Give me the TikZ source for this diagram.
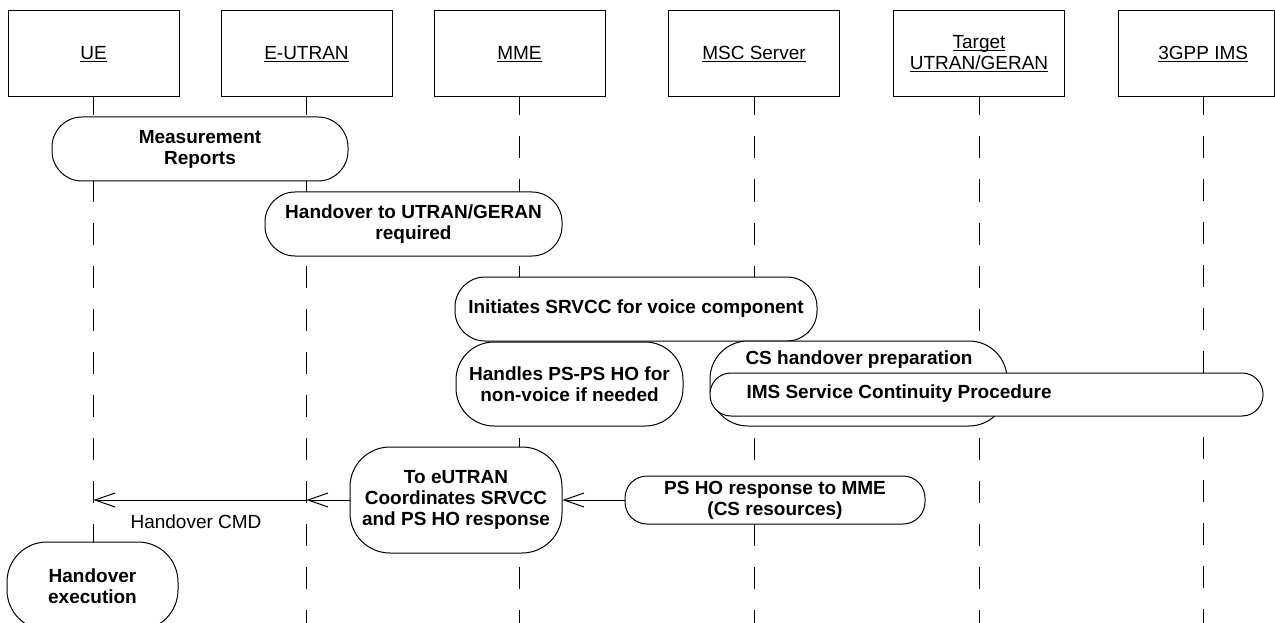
\documentclass[tikz,border=0pt]{standalone}
\usepackage{fontspec}
\setmainfont{Liberation Sans}
\usetikzlibrary{arrows.meta}
\newcommand\hfnt{\fontsize{19}{21}\selectfont}
\newcommand\bfnt{\fontsize{19}{21}\selectfont\bfseries}
\newcommand\myul[1]{{\setbox0\hbox{#1}\rlap{\rule[-2.6pt]{\wd0}{1pt}}\box0}}
\begin{document}
\begin{tikzpicture}[x=1pt,y=-1pt,line width=1pt,
  hdr/.style={draw,fill=white,minimum width=171pt,minimum height=86pt,inner sep=0pt,font=\hfnt,align=center},
  life/.style={dash pattern=on 22pt off 21pt,dash phase=4pt},
  act/.style={draw,fill=white,inner sep=0pt,font=\bfnt,align=center},
  txt/.style={inner sep=0pt,font=\bfnt,align=center},
  msg/.style={-{Straight Barb[length=20pt,width=14pt]}},
]
\clip (0,0) rectangle (1275,623);
\fill[white] (0,0) rectangle (1275,623);
% headers
\node[hdr] (ue) at (93.5,54) {\myul{UE}};
\node[hdr] (eutran) at (306.5,54) {\myul{E-UTRAN}};
\node[hdr] (mme) at (519.5,54) {\myul{MME}};
\node[hdr] (msc) at (754,54) {\myul{MSC Server}};
\node[hdr] (tgt) at (979,54) {\myul{Target}\\\myul{UTRAN/GERAN}};
\node[hdr,minimum width=156.5pt] (ims3) at (1196.25,54) {\hspace*{14pt}\myul{3GPP IMS}};
% lifeline ends
\coordinate (ims3s) at (1203.5,97);
\coordinate (ueE) at (93.5,640);
\coordinate (euE) at (306.5,640);
\coordinate (mmE) at (519.5,640);
\coordinate (msE) at (754,640);
\coordinate (tgE) at (979,640);
\coordinate (imE) at (1203.5,640);
\draw[life] (ue.south) -- (ueE);
\draw[life] (eutran.south) -- (euE);
\draw[life] (mme.south) -- (mmE);
\draw[life] (msc.south) -- (msE);
\draw[life] (tgt.south) -- (tgE);
\draw[life] (ims3s) -- (imE);
% activity boxes
\node[act,minimum width=296pt,minimum height=64pt,rounded corners=30pt] (meas) at (200,149) {Measurement\\Reports};
\node[act,minimum width=297pt,minimum height=64pt,rounded corners=30pt] (horeq) at (413.5,224) {Handover to UTRAN/GERAN\\required};
\node[act,minimum width=362pt,minimum height=64pt,rounded corners=30pt] (init) at (636,309) {Initiates SRVCC for voice component};
\node[act,minimum width=227pt,minimum height=84pt,rounded corners=38pt] (handles) at (569.5,384) {Handles PS-PS HO for\\non-voice if needed};
\node[act,minimum width=297pt,minimum height=85pt,rounded corners=38pt] (cs) at (858.5,383.5) {};
\node[txt] (cstxt) at (859,360) {CS handover preparation};
\node[act,minimum width=553pt,minimum height=43pt,rounded corners=21pt] (imsp) at (986.5,394.5) {};
\node[txt,anchor=west] (imstxt) at (746,394) {IMS Service Continuity Procedure};
\node[act,minimum width=212pt,minimum height=106pt,rounded corners=40pt] (coord) at (456,500) {To eUTRAN\\Coordinates SRVCC\\and PS HO response};
\node[act,minimum width=300pt,minimum height=48pt,rounded corners=22pt] (psho) at (775,500) {PS HO response to MME\\(CS resources)};
\node[act,minimum width=171pt,minimum height=88pt,rounded corners=40pt] (hoexec) at (92.5,586) {Handover\\execution};
% messages
\coordinate (euM) at (eutran.south |- coord.west);
\coordinate (ueM) at (ue.south |- coord.west);
\draw[msg] (psho.west) -- (coord.east);
\draw[msg] (coord.west) -- (euM);
\draw[msg] (euM) -- (ueM);
\node[font=\hfnt,inner sep=0pt] (cmd) at (196,522) {Handover CMD};
\end{tikzpicture}
\end{document}
